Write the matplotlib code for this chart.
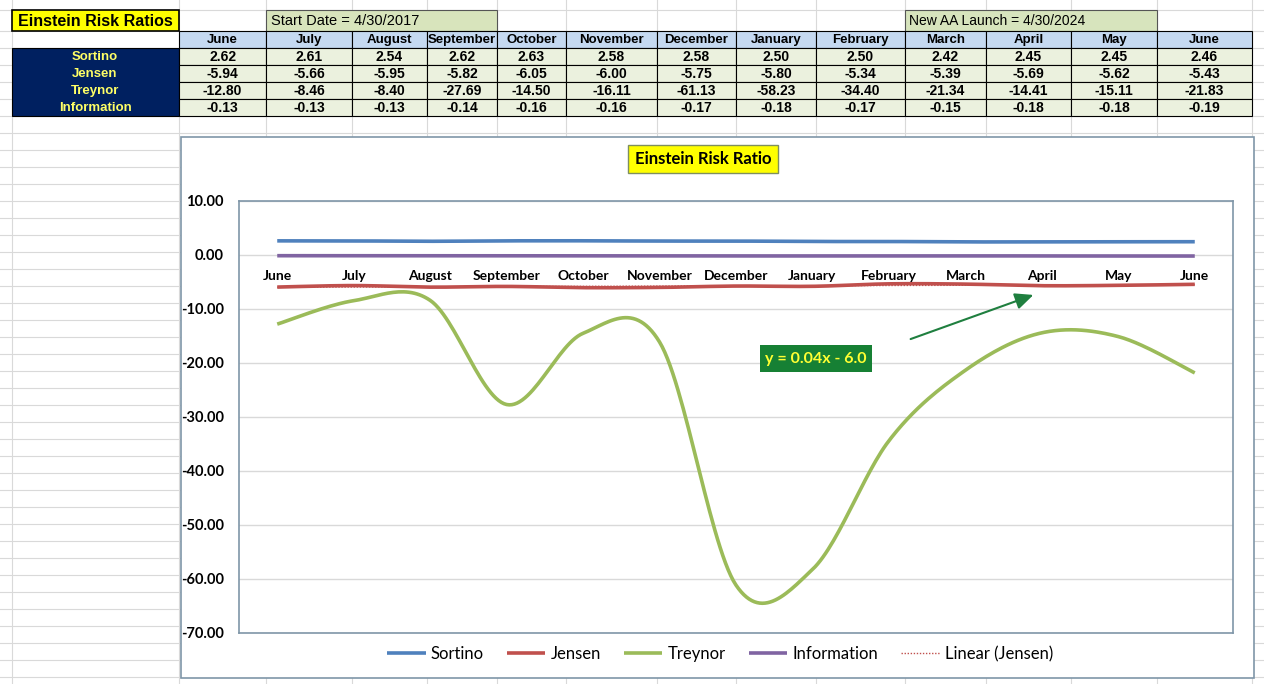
import numpy as np
import matplotlib
matplotlib.use("Agg")
import matplotlib.pyplot as plt
from matplotlib.patches import Rectangle, FancyArrowPatch
from matplotlib.transforms import offset_copy

# data read from the sheet
months = ["June", "July", "August", "September", "October", "November", "December",
          "January", "February", "March", "April", "May", "June"]
sortino = [2.62, 2.61, 2.54, 2.62, 2.63, 2.58, 2.58, 2.50, 2.50, 2.42, 2.45, 2.45, 2.46]
jensen = [-5.94, -5.66, -5.95, -5.82, -6.05, -6.00, -5.75, -5.80, -5.34, -5.39, -5.69, -5.62, -5.43]
treynor = [-12.80, -8.46, -8.40, -27.69, -14.50, -16.11, -61.13, -58.23, -34.40, -21.34, -14.41, -15.11, -21.83]
information = [-0.13, -0.13, -0.13, -0.14, -0.16, -0.16, -0.17, -0.18, -0.17, -0.15, -0.18, -0.18, -0.19]
row_names = ["Sortino", "Jensen", "Treynor", "Information"]
yticks = [10, 0, -10, -20, -30, -40, -50, -60, -70]

W, H = 1264, 684
NARROW = ["Liberation Sans", "DejaVu Sans"]
CHART = ["Lato", "DejaVu Sans"]

colors = {"Sortino": "#4f81bd", "Jensen": "#c0504d", "Treynor": "#9bbb59", "Information": "#8064a2"}


def smooth(y, n=30):
    # Excel style smoothed line (Catmull-Rom bezier between points)
    y = np.asarray(y, float)
    x = np.arange(len(y), dtype=float)
    px = np.concatenate([[x[0]], x, [x[-1]]])
    py = np.concatenate([[y[0]], y, [y[-1]]])
    xs, ys = [], []
    t = np.linspace(0, 1, n)
    for i in range(1, len(px) - 2):
        p0 = np.array([px[i], py[i]])
        p3 = np.array([px[i + 1], py[i + 1]])
        c1 = p0 + (np.array([px[i + 1], py[i + 1]]) - np.array([px[i - 1], py[i - 1]])) / 6
        c2 = p3 - (np.array([px[i + 2], py[i + 2]]) - np.array([px[i], py[i]])) / 6
        pts = ((1 - t) ** 3)[:, None] * p0 + (3 * (1 - t) ** 2 * t)[:, None] * c1 \
            + (3 * (1 - t) * t ** 2)[:, None] * c2 + (t ** 3)[:, None] * p3
        xs.extend(pts[:, 0]); ys.extend(pts[:, 1])
    return np.array(xs), np.array(ys)


fig = plt.figure(figsize=(W / 100, H / 100), dpi=100)

# ---- spreadsheet background, pixel coordinates
bg = fig.add_axes([0, 0, 1, 1], zorder=0)
bg.set_xlim(0, W)
bg.set_ylim(H, 0)
bg.axis("off")

col_edges = [12, 179, 266, 352, 427, 497, 566, 657, 736, 816, 905, 986, 1071, 1157, 1252]
row_edges = [10, 31, 48, 65, 82, 99, 116] + list(range(133, H, 17))
for cx in col_edges:
    bg.plot([cx, cx], [0, H], color="#d9d9d9", lw=0.8, zorder=0)
for ry in row_edges:
    bg.plot([0, W], [ry, ry], color="#d9d9d9", lw=0.8, zorder=0)

# title cell
bg.add_patch(Rectangle((12, 10), 167, 21, facecolor="#ffff00", edgecolor="black", lw=1.2, zorder=2))
bg.text(95, 21, "Einstein Risk Ratios", ha="center", va="center", fontsize=11.5,
        fontweight="bold", family=NARROW, zorder=3)
# date boxes
bg.add_patch(Rectangle((266, 10), 231, 21, facecolor="#d8e4bc", edgecolor="#555555", lw=0.8, zorder=2))
bg.text(271, 21, "Start Date = 4/30/2017", ha="left", va="center", fontsize=10.5,
        family=NARROW, zorder=3)
bg.add_patch(Rectangle((905, 10), 252, 21, facecolor="#d7e4bd", edgecolor="#555555", lw=0.8, zorder=2))
bg.text(909, 21, "New AA Launch = 4/30/2024", ha="left", va="center", fontsize=10,
        family=NARROW, zorder=3)

# header row
for i, m in enumerate(months):
    x0, x1 = col_edges[i + 1], col_edges[i + 2]
    bg.add_patch(Rectangle((x0, 31), x1 - x0, 17, facecolor="#c5d9f1", edgecolor="black", lw=0.8, zorder=2))
    bg.text((x0 + x1) / 2, 40, m, ha="center", va="center", fontsize=9.5,
            fontweight="bold", family=NARROW, zorder=3)

# label block
bg.add_patch(Rectangle((12, 48), 167, 68, facecolor="#002060", edgecolor="black", lw=0.8, zorder=2))
table_rows = [sortino, jensen, treynor, information]
for r, (name, vals) in enumerate(zip(row_names, table_rows)):
    y0 = 48 + 17 * r
    bg.text(95, y0 + 9, name, ha="center", va="center", fontsize=9.5, fontweight="bold",
            color="#ffff66", family=NARROW, zorder=3)
    for i, v in enumerate(vals):
        x0, x1 = col_edges[i + 1], col_edges[i + 2]
        bg.add_patch(Rectangle((x0, y0), x1 - x0, 17, facecolor="#ebf1de", edgecolor="black", lw=0.8, zorder=2))
        bg.text((x0 + x1) / 2, y0 + 9, f"{v:.2f}", ha="center", va="center", fontsize=10,
                fontweight="bold", family=NARROW, zorder=3)

# chart area
bg.add_patch(Rectangle((181, 137), 1073, 541, facecolor="white", edgecolor="#7f96a8", lw=1.2, zorder=4))

# ---- plot area
pl, pr, pt, pb = 239, 1233, 201, 633
ax = fig.add_axes([pl / W, 1 - pb / H, (pr - pl) / W, (pb - pt) / H], zorder=1)
ax.set_xlim(-0.5, len(months) - 0.5)
ax.set_ylim(-70, 10)
ax.set_yticks(yticks)
ax.set_yticklabels([f"{v:.2f}" for v in yticks], fontsize=10.5, fontweight="bold", family=CHART)
ax.tick_params(axis="y", length=0, pad=11)
ax.set_xticks([])
ax.grid(axis="y", color="#d9d9d9", lw=1)
ax.set_axisbelow(True)
for s in ax.spines.values():
    s.set_color("#7f96a8")
    s.set_linewidth(1.2)

series = [("Sortino", sortino), ("Jensen", jensen), ("Treynor", treynor), ("Information", information)]
handles = []
for name, vals in series:
    sx, sy = smooth(vals)
    ln, = ax.plot(sx, sy, color=colors[name], lw=2.6, solid_capstyle="butt", label=name)
    handles.append(ln)

xi = np.arange(1, len(jensen) + 1)
slope, icpt = np.polyfit(xi, jensen, 1)
tr, = ax.plot(xi - 1, slope * xi + icpt, color="#c0504d", lw=1.0, ls=(0, (1, 1.2)),
              label="Linear (Jensen)")
handles.append(tr)

lab_tf = offset_copy(ax.transData, fig=fig, x=0, y=-21, units="dots")
for i, m in enumerate(months):
    ax.text(i, 0, m, transform=lab_tf, ha="center", va="center", fontsize=10,
            fontweight="bold", family=CHART)

# ---- overlay: chart title, trendline label, arrow
top = fig.add_axes([0, 0, 1, 1], zorder=2)
top.set_xlim(0, W)
top.set_ylim(H, 0)
top.axis("off")
top.patch.set_alpha(0)

top.add_patch(Rectangle((628, 145), 150, 28, facecolor="#ffff00", edgecolor="#7f8f5f", lw=1.0))
top.text(703, 159.5, "Einstein Risk Ratio", ha="center", va="center", fontsize=12,
         fontweight="bold", family=CHART)

top.add_patch(Rectangle((760, 345), 112, 27, facecolor="#168034", edgecolor="none"))
top.text(816, 358.5, "y = 0.04x - 6.0", ha="center", va="center", fontsize=11.5,
         fontweight="bold", color="#ffff33", family=CHART)

top.add_patch(FancyArrowPatch((908, 340), (1036, 294), arrowstyle="-|>,head_length=11,head_width=5",
                              color="#1f7f3f", lw=1.5, mutation_scale=1))

fig.legend(handles=handles, labels=[h.get_label() for h in handles], loc="center",
           bbox_to_anchor=(720 / W, 1 - 654 / H), ncol=5, frameon=False,
           prop={"family": CHART, "size": 12}, handlelength=2.3, handletextpad=0.3,
           columnspacing=1.4)

fig.savefig("out.png", dpi=100)
